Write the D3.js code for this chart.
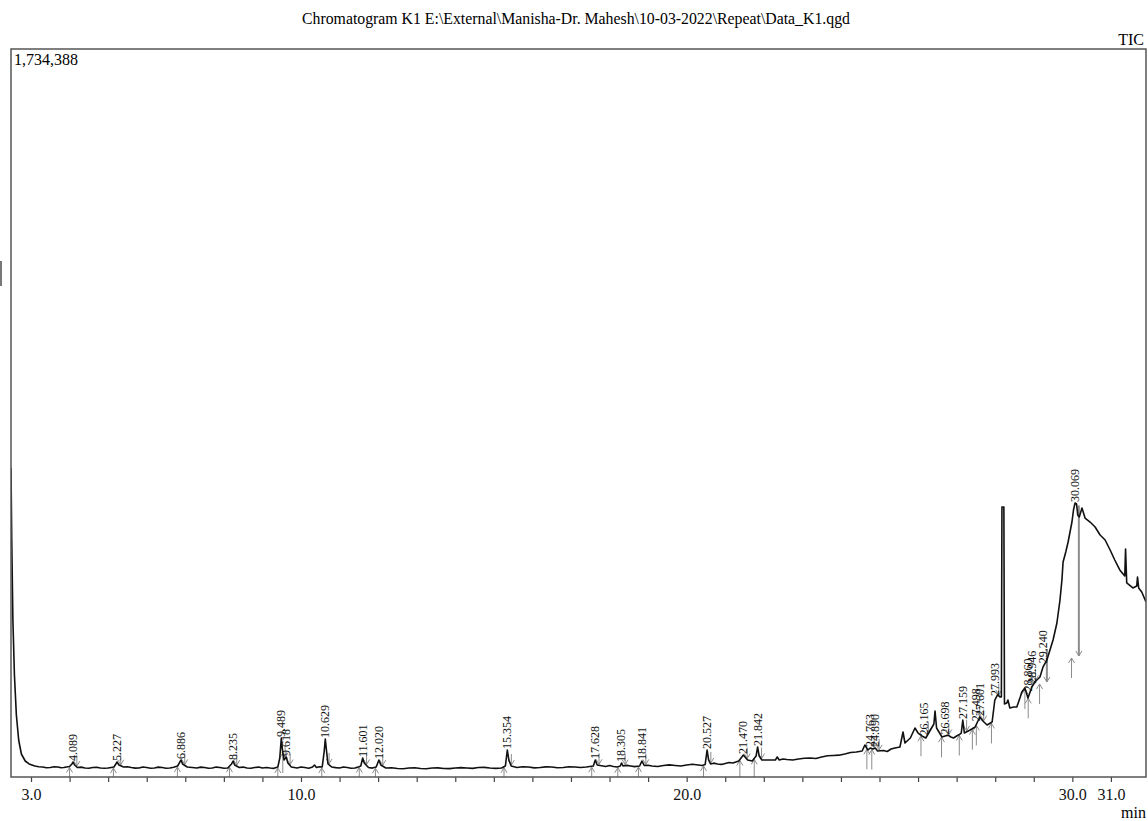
<!DOCTYPE html>
<html>
<head>
<meta charset="utf-8">
<script src="https://cdn.jsdelivr.net/npm/d3@7"></script>
<style>
  body { margin: 0; background: #fff; }
</style>
</head>
<body>
<div id="canvas"></div>
<script>
"use strict"

/* Chart data: TIC trace, [retention time (min), intensity] */
let ticTrace = [
    [2.481, 736200], [2.50, 564600], [2.53, 374000], [2.57, 243000], [2.62, 147700],
    [2.68, 88100], [2.75, 54800], [2.85, 38100], [2.95, 31000], [3.10, 26200],
    [3.20, 24500], [3.30, 23800], [3.40, 22000], [3.50, 22600], [3.60, 24300],
    [3.70, 23800], [3.78, 22000], [3.85, 22600], [3.92, 24000], [4.00, 25000],
    [4.06, 31000], [4.09, 35700], [4.13, 28600], [4.20, 22600], [4.30, 23500],
    [4.40, 21400], [4.50, 20800], [4.60, 22600], [4.70, 23300], [4.80, 21400],
    [4.90, 20900], [5.00, 21400], [5.08, 22800], [5.15, 23800], [5.20, 31000],
    [5.23, 35700], [5.28, 28600], [5.40, 23800], [5.50, 24300], [5.60, 22600],
    [5.70, 21200], [5.80, 21400], [5.90, 23800], [6.00, 22600], [6.10, 20900],
    [6.20, 21400], [6.30, 23500], [6.40, 22600], [6.50, 20700], [6.60, 21400],
    [6.70, 23200], [6.80, 26200], [6.86, 35700], [6.89, 40500], [6.93, 31000],
    [7.05, 23800], [7.18, 22500], [7.30, 21400], [7.40, 23500], [7.50, 22600],
    [7.60, 20800], [7.70, 21400], [7.80, 23600], [7.90, 22600], [8.00, 20900],
    [8.10, 21400], [8.20, 31000], [8.24, 38100], [8.28, 28600], [8.40, 22600],
    [8.50, 23600], [8.60, 21400], [8.70, 20900], [8.80, 22600], [8.90, 23600],
    [9.00, 21400], [9.10, 22500], [9.20, 21400], [9.30, 20600], [9.40, 23800],
    [9.45, 45300], [9.49, 92900], [9.52, 64300], [9.56, 40500], [9.62, 47600],
    [9.66, 33400], [9.75, 23800], [9.90, 21400], [10.00, 23900], [10.10, 22600],
    [10.20, 21000], [10.30, 23800], [10.35, 28600], [10.40, 22600], [10.48, 24200],
    [10.55, 23800], [10.60, 59600], [10.63, 90500], [10.66, 64300], [10.70, 31000],
    [10.80, 23800], [10.90, 22400], [11.00, 21400], [11.10, 24000], [11.20, 22600],
    [11.30, 20700], [11.40, 21400], [11.48, 23500], [11.55, 26200], [11.60, 45300],
    [11.64, 33400], [11.75, 22600], [11.85, 21200], [11.95, 23800], [12.02, 40500],
    [12.07, 28600], [12.20, 21400], [12.35, 22000], [12.50, 20300], [12.65, 19800],
    [12.80, 21400], [12.95, 21900], [13.10, 20300], [13.25, 19700], [13.40, 21400],
    [13.55, 21800], [13.70, 20300], [13.85, 20000], [14.00, 21400], [14.15, 22300],
    [14.30, 21400], [14.45, 20500], [14.60, 22600], [14.75, 22900], [14.90, 21400],
    [15.05, 20600], [15.20, 21400], [15.30, 26200], [15.35, 64300], [15.39, 40500],
    [15.45, 26200], [15.60, 22600], [15.75, 24500], [15.90, 23800], [16.05, 21800],
    [16.20, 22600], [16.35, 24200], [16.50, 23800], [16.65, 21900], [16.80, 22600],
    [16.95, 24600], [17.10, 23800], [17.25, 22500], [17.40, 23800], [17.58, 26200],
    [17.63, 40500], [17.68, 28600], [17.90, 25000], [18.00, 27200], [18.10, 25000],
    [18.20, 24000], [18.28, 26200], [18.31, 33400], [18.35, 26200], [18.45, 27600],
    [18.55, 26200], [18.65, 24800], [18.78, 26200], [18.84, 38100], [18.90, 27400],
    [19.00, 27900], [19.10, 26200], [19.25, 24900], [19.40, 27400], [19.55, 28800],
    [19.70, 27400], [19.85, 26300], [20.00, 28600], [20.15, 30200], [20.30, 28600],
    [20.40, 27500], [20.48, 29800], [20.53, 64300], [20.57, 40500], [20.62, 31000],
    [20.70, 33000], [20.80, 31000], [20.90, 30000], [21.00, 32200], [21.10, 34400],
    [21.20, 33400], [21.35, 38100], [21.47, 52400], [21.58, 40500], [21.70, 38100],
    [21.80, 50000], [21.84, 71500], [21.88, 50000], [21.95, 40500], [22.10, 40500],
    [22.30, 40500], [22.35, 47600], [22.40, 40500], [22.50, 43000], [22.60, 41700],
    [22.75, 40500], [22.90, 42900], [23.05, 44500], [23.20, 45300], [23.35, 44000],
    [23.50, 47600], [23.65, 50500], [23.80, 51200], [23.95, 52000], [24.10, 54800],
    [24.25, 58300], [24.40, 59600], [24.55, 61900], [24.62, 76200], [24.70, 64300],
    [24.76, 69100], [24.83, 66700], [24.89, 69100], [24.95, 61900], [25.10, 63100],
    [25.20, 60800], [25.30, 66700], [25.40, 69200], [25.53, 71500], [25.61, 107200],
    [25.66, 81000], [25.80, 92900], [25.92, 116700], [26.00, 104800], [26.10, 97700],
    [26.20, 92900], [26.32, 112000], [26.41, 126300], [26.44, 157200], [26.48, 116700],
    [26.62, 95300], [26.70, 97700], [26.78, 99800], [26.85, 95300], [26.92, 93000],
    [27.00, 97700], [27.06, 100500], [27.12, 104800], [27.16, 135800], [27.20, 104800],
    [27.35, 112000], [27.48, 119100], [27.60, 142900], [27.68, 133400], [27.79, 123900],
    [27.92, 131000], [27.99, 183400], [28.06, 195400], [28.13, 190600], [28.16, 190600],
    [28.175, 643200], [28.225, 643200], [28.24, 173900], [28.30, 176300], [28.33, 183400],
    [28.38, 164400], [28.48, 166800], [28.56, 166800], [28.65, 190600], [28.69, 202500],
    [28.77, 212000], [28.85, 188200], [28.95, 214400], [29.03, 226300], [29.16, 238200],
    [29.24, 262100], [29.34, 278700], [29.42, 302600], [29.50, 326400], [29.60, 366900],
    [29.68, 421700], [29.73, 469300], [29.76, 512200], [29.83, 536000], [29.89, 559900],
    [29.95, 588500], [29.99, 607500], [30.03, 636100], [30.07, 652800], [30.11, 650400],
    [30.14, 624200], [30.18, 619400], [30.25, 640900], [30.33, 617000], [30.46, 607500],
    [30.59, 595600], [30.72, 576500], [30.85, 564600], [30.98, 540800], [31.10, 517000],
    [31.23, 493200], [31.36, 478900], [31.38, 543200], [31.41, 462200], [31.57, 450300],
    [31.67, 455000], [31.69, 476500], [31.72, 450300], [31.80, 440700], [31.91, 416900]
];

/* Integrated peaks (retention times) */
let peakTimes = [4.089, 5.227, 6.886, 8.235, 9.489, 9.618, 10.629, 11.601, 12.020,
    15.354, 17.628, 18.305, 18.841, 20.527, 21.470, 21.842, 24.763, 24.890,
    26.165, 26.698, 27.159, 27.498, 27.601, 27.993, 28.860, 28.946, 29.240, 30.069];

/* Forced baselines for the late peaks (intensity) */
let peakBaselines = { "29.240": 224000, "30.069": 285900 };

/* Axis */
let xTickValues = d3.range(3, 32);
let xTickLabels = [3, 10, 20, 30, 31];
let xDomain = [2.481, 31.91];
let yMax = 1734388;

let titleText = "Chromatogram K1 E:\\External\\Manisha-Dr. Mahesh\\10-03-2022\\Repeat\\Data_K1.qgd";

/* Configuration variables: drawing */
let svgWidth = 1148;
let svgHeight = 821;
let plotLeft = 11, plotRight = 1146, plotTop = 49, plotBottom = 777;
let serif = "'Liberation Serif', 'Times New Roman', serif";

let svg = d3.select("#canvas")
    .append("svg")
    .attr("width", svgWidth)
    .attr("height", svgHeight)
    .style("display", "block");

let xScale = d3.scaleLinear()
    .domain(xDomain)
    .range([plotLeft, plotRight]);

let yScale = d3.scaleLinear()
    .domain([0, yMax])
    .range([plotBottom, plotTop]);

/* trace value at a time (linear interpolation) */
let bisect = d3.bisector(d => d[0]).left;
function traceAt(t) {
    let i = bisect(ticTrace, t);
    if (i <= 0) return ticTrace[0][1];
    if (i >= ticTrace.length) return ticTrace[ticTrace.length - 1][1];
    let a = ticTrace[i - 1], b = ticTrace[i];
    return a[1] + (b[1] - a[1]) * (t - a[0]) / (b[0] - a[0]);
}
function peakTop(t) {
    let m = Math.max(traceAt(t - 0.04), traceAt(t + 0.04));
    ticTrace.forEach(d => { if (d[0] >= t - 0.04 && d[0] <= t + 0.04) m = Math.max(m, d[1]); });
    return m;
}

svg.append("clipPath").attr("id", "plotclip")
    .append("rect")
    .attr("x", plotLeft).attr("y", plotTop)
    .attr("width", plotRight - plotLeft).attr("height", plotBottom - plotTop);

/* Title and corner texts */
svg.append("text")
    .attr("x", 576)
    .attr("y", 24)
    .attr("text-anchor", "middle")
    .style("font-family", serif)
    .style("font-size", "15.8px")
    .text(titleText);

svg.append("text")
    .attr("x", 1144)
    .attr("y", 45)
    .attr("text-anchor", "end")
    .style("font-family", serif)
    .style("font-size", "16px")
    .text("TIC");

svg.append("text")
    .attr("x", 14)
    .attr("y", 65)
    .style("font-family", serif)
    .style("font-size", "16px")
    .text(d3.format(",")(yMax));

svg.append("text")
    .attr("x", 1146)
    .attr("y", 818)
    .attr("text-anchor", "end")
    .style("font-family", serif)
    .style("font-size", "16px")
    .text("min");

/* small marker on the left edge */
svg.append("line")
    .attr("x1", 1).attr("x2", 1)
    .attr("y1", 261).attr("y2", 286)
    .attr("stroke", "#777")
    .attr("stroke-width", 2);

/* x axis */
let xAxis = svg.append("g")
    .attr("transform", "translate(0," + plotBottom + ")")
    .call(d3.axisBottom(xScale)
        .tickValues(xTickValues)
        .tickSize(5)
        .tickPadding(7)
        .tickFormat(d => xTickLabels.includes(d) ? d.toFixed(1) : ""));
xAxis.select(".domain").remove();
xAxis.selectAll(".tick line").attr("stroke", "#444").attr("stroke-width", 1.2);
xAxis.selectAll(".tick text")
    .style("font-family", serif)
    .style("font-size", "16px")
    .attr("fill", "#111");

/* peak markers (gray arrows) */
let marks = svg.append("g")
    .attr("clip-path", "url(#plotclip)")
    .attr("stroke", "#8c8c8c")
    .attr("stroke-width", 1)
    .attr("fill", "none");

peakTimes.forEach(function (rt) {
    let key = rt.toFixed(3);
    let ts = rt - 0.09, te = rt + 0.1;
    let baseS = peakBaselines[key] !== undefined ? peakBaselines[key] : traceAt(ts);
    let baseE = peakBaselines[key] !== undefined ? peakBaselines[key] : traceAt(te);

    // start arrow, pointing up
    let xs = xScale(ts), ys = yScale(baseS) + 1;
    marks.append("line")
        .attr("x1", xs).attr("x2", xs)
        .attr("y1", ys).attr("y2", Math.min(ys + 20, plotBottom));
    marks.append("path")
        .attr("d", "M" + (xs - 3) + "," + (ys + 5) + "L" + xs + "," + ys + "L" + (xs + 3) + "," + (ys + 5));

    // end arrow, pointing down
    let xe = xScale(te), ye = yScale(baseE) - 1;
    let yTop = Math.min(yScale(traceAt(te)), ye) - 11;
    marks.append("line")
        .attr("x1", xe).attr("x2", xe)
        .attr("y1", yTop).attr("y2", ye)
        .attr("stroke-width", peakBaselines[key] !== undefined ? 2 : 1);
    marks.append("path")
        .attr("d", "M" + (xe - 3) + "," + (ye - 5) + "L" + xe + "," + ye + "L" + (xe + 3) + "," + (ye - 5));
});

/* TIC trace */
let line = d3.line()
    .x(d => xScale(d[0]))
    .y(d => yScale(d[1]));

svg.append("path")
    .datum(ticTrace)
    .attr("clip-path", "url(#plotclip)")
    .attr("fill", "none")
    .attr("stroke", "#111")
    .attr("stroke-width", 1.6)
    .attr("stroke-linejoin", "round")
    .attr("d", line);

/* peak labels, vertical */
svg.selectAll(".peaklabel")
    .data(peakTimes)
    .join("text")
    .attr("class", "peaklabel")
    .attr("transform", d => "translate(" + (xScale(d) + 4) + "," + (yScale(peakTop(d)) - 1) + ") rotate(-90)")
    .style("font-family", serif)
    .style("font-size", "12px")
    .attr("fill", "#111")
    .text(d => d.toFixed(3));

/* frame */
svg.append("rect")
    .attr("x", plotLeft)
    .attr("y", plotTop)
    .attr("width", plotRight - plotLeft)
    .attr("height", plotBottom - plotTop)
    .attr("fill", "none")
    .attr("stroke", "#555")
    .attr("stroke-width", 1.5);
</script>
</body>
</html>
